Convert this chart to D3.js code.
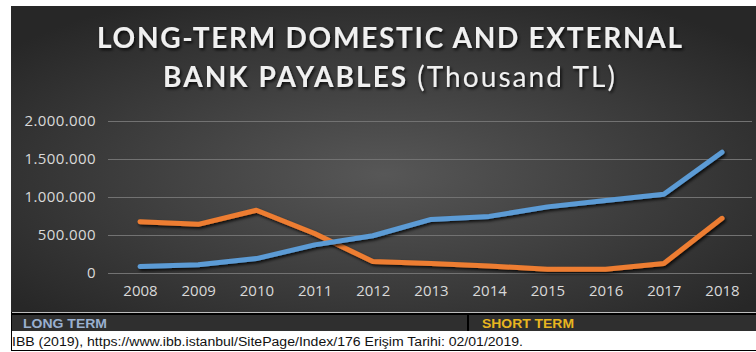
<!DOCTYPE html>
<html>
<head>
<meta charset="utf-8">
<script src="https://cdnjs.cloudflare.com/ajax/libs/d3/7.8.5/d3.min.js"></script>
<style>
  body { margin: 0; background: #fff; }
  svg { display: block; }
</style>
</head>
<body>
<div id="chart"></div>
<script>
// values (thousand TL)
var years = ["2008","2009","2010","2011","2012","2013","2014","2015","2016","2017","2018"];
var longTerm  = [85000, 110000, 190000, 370000, 490000, 705000, 745000, 870000, 955000, 1035000, 1590000];
var shortTerm = [675000, 640000, 825000, 520000, 150000, 125000, 92000, 50000, 48000, 125000, 720000];
var yTicks = [0, 500000, 1000000, 1500000, 2000000];
var tickLabels = ["0", "500.000", "1.000.000", "1.500.000", "2.000.000"];

var W = 756, H = 352;
var svg = d3.select("#chart").append("svg")
    .attr("width", W)
    .attr("height", H);

var defs = svg.append("defs");
var grad = defs.append("radialGradient")
    .attr("id", "bg")
    .attr("cx", "50%").attr("cy", "55%").attr("r", "65%");
grad.append("stop").attr("offset", "0%").attr("stop-color", "#575757");
grad.append("stop").attr("offset", "100%").attr("stop-color", "#272727");

var shadow = defs.append("filter").attr("id", "shadow")
    .attr("x", "-5%").attr("y", "-20%").attr("width", "110%").attr("height", "150%");
shadow.append("feDropShadow")
    .attr("dx", 1.5).attr("dy", 2).attr("stdDeviation", 1.5)
    .attr("flood-color", "#000").attr("flood-opacity", 0.8);

// dark panel
svg.append("rect")
    .attr("x", 11).attr("y", 6)
    .attr("width", W - 11).attr("height", 306)
    .attr("fill", "url(#bg)");

// title
svg.append("text")
    .attr("x", 97).attr("y", 48)
    .attr("textLength", 585).attr("lengthAdjust", "spacing")
    .attr("fill", "#f0f0f0")
    .attr("filter", "url(#shadow)")
    .style("font-family", "Lato, 'Open Sans', sans-serif")
    .style("font-weight", "bold")
    .style("font-size", "28px")
    .text("LONG-TERM DOMESTIC AND EXTERNAL");

var t2 = svg.append("text")
    .attr("x", 163).attr("y", 87)
    .attr("textLength", 452).attr("lengthAdjust", "spacing")
    .attr("fill", "#f0f0f0")
    .attr("filter", "url(#shadow)")
    .style("font-family", "Lato, 'Open Sans', sans-serif")
    .style("font-size", "28px");
t2.append("tspan").style("font-weight", "bold").text("BANK PAYABLES ");
t2.append("tspan").text("(Thousand TL)");

// scales
var x = d3.scalePoint()
    .domain(years)
    .range([140, 722]);

var y = d3.scaleLinear()
    .domain([0, 2000000])
    .range([273, 121]);

// gridlines
svg.append("g")
    .selectAll("line")
    .data(yTicks)
    .join("line")
    .attr("x1", 108).attr("x2", 752)
    .attr("y1", d => Math.round(y(d)) + 0.5)
    .attr("y2", d => Math.round(y(d)) + 0.5)
    .attr("stroke", "#727272")
    .attr("stroke-width", 1);

// y axis labels
var yAxis = svg.append("g")
    .attr("transform", "translate(96,0)")
    .call(d3.axisLeft(y).tickValues(yTicks).tickSize(0).tickPadding(0)
        .tickFormat((d, i) => tickLabels[i]));
yAxis.select(".domain").remove();
yAxis.selectAll("text")
    .attr("fill", "#d9d9d9")
    .style("font-family", "'Open Sans', sans-serif")
    .style("font-size", "15px")
    .style("letter-spacing", "0.4px");

// x axis labels
var xAxis = svg.append("g")
    .attr("transform", "translate(0,285)")
    .call(d3.axisBottom(x).tickSize(0).tickPadding(0));
xAxis.select(".domain").remove();
xAxis.selectAll("text")
    .attr("fill", "#d9d9d9")
    .style("font-family", "'Open Sans', sans-serif")
    .style("font-size", "15px");

// lines
var line = d3.line()
    .x((d, i) => x(years[i]))
    .y(d => y(d));

svg.append("path")
    .datum(shortTerm)
    .attr("d", line)
    .attr("fill", "none")
    .attr("stroke", "#ed7d31")
    .attr("stroke-width", 5)
    .attr("stroke-linecap", "round")
    .attr("stroke-linejoin", "round")
    .attr("filter", "url(#shadow)");

svg.append("path")
    .datum(longTerm)
    .attr("d", line)
    .attr("fill", "none")
    .attr("stroke", "#5b9bd5")
    .attr("stroke-width", 5)
    .attr("stroke-linecap", "round")
    .attr("stroke-linejoin", "round")
    .attr("filter", "url(#shadow)");

// legend strip under the chart
svg.append("line")
    .attr("x1", 11).attr("x2", W).attr("y1", 312.5).attr("y2", 312.5)
    .attr("stroke", "#bdbdbd");
svg.append("line")
    .attr("x1", 11).attr("x2", W).attr("y1", 314).attr("y2", 314)
    .attr("stroke", "#000").attr("stroke-width", 2);
svg.append("rect")
    .attr("x", 11).attr("y", 315)
    .attr("width", W - 11).attr("height", 16)
    .attr("fill", "#2f2f2f");
svg.append("line")
    .attr("x1", 468).attr("x2", 468).attr("y1", 315).attr("y2", 331)
    .attr("stroke", "#000").attr("stroke-width", 2);
svg.append("line")
    .attr("x1", 11.5).attr("x2", 11.5).attr("y1", 312).attr("y2", 351)
    .attr("stroke", "#000");
svg.append("line")
    .attr("x1", 11).attr("x2", W).attr("y1", 350.5).attr("y2", 350.5)
    .attr("stroke", "#000");

svg.append("text")
    .attr("x", 23).attr("y", 328)
    .attr("textLength", 84).attr("lengthAdjust", "spacingAndGlyphs")
    .attr("fill", "#9ab0cf")
    .style("font-family", "'Liberation Sans', Arial, sans-serif")
    .style("font-weight", "bold")
    .style("font-size", "12.5px")
    .text("LONG TERM");

svg.append("text")
    .attr("x", 482).attr("y", 328)
    .attr("textLength", 92).attr("lengthAdjust", "spacingAndGlyphs")
    .attr("fill", "#e8b620")
    .style("font-family", "'Liberation Sans', Arial, sans-serif")
    .style("font-weight", "bold")
    .style("font-size", "12.5px")
    .text("SHORT TERM");

svg.append("text")
    .attr("x", 12).attr("y", 346)
    .attr("textLength", 511).attr("lengthAdjust", "spacingAndGlyphs")
    .attr("fill", "#111")
    .style("font-family", "'Liberation Sans', Arial, sans-serif")
    .style("font-size", "12px")
    .text("IBB (2019), https://www.ibb.istanbul/SitePage/Index/176 Erişim Tarihi: 02/01/2019.");
</script>
</body>
</html>
